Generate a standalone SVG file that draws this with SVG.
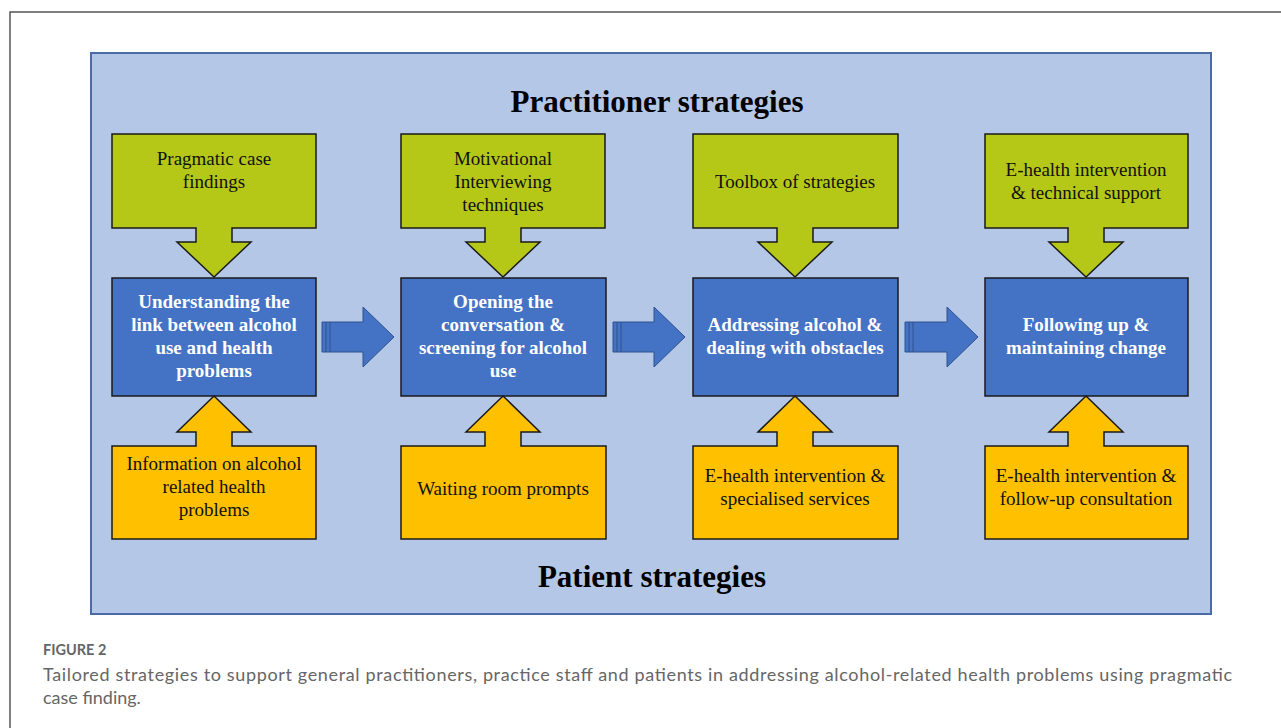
<svg xmlns="http://www.w3.org/2000/svg" width="1281" height="728" viewBox="0 0 1281 728">
<style>
.green{fill:#b5c818;stroke:#1a1a1a;stroke-width:1.5}
.yellow{fill:#ffc000;stroke:#1a1a1a;stroke-width:1.5}
.blue{fill:#4472c4;stroke:#1a1a1a;stroke-width:1.5}
.arr{fill:#4472c4;stroke:#2f528f;stroke-width:1}
.stripe{stroke:#2f528f;stroke-width:1}
.t{font-family:"Liberation Serif","Times New Roman",serif;font-size:19px;fill:#111;text-anchor:middle}
.tb{font-family:"Liberation Serif","Times New Roman",serif;font-size:19px;font-weight:bold;fill:#fff;text-anchor:middle}
.title{font-family:"Liberation Serif","Times New Roman",serif;font-size:31px;font-weight:bold;fill:#000;text-anchor:middle}
.cap{font-family:Lato,"Open Sans",sans-serif;fill:#666}
</style>
<rect width="1281" height="728" fill="#fff"/>
<path d="M10,728 V12 H1281" fill="none" stroke="#555" stroke-width="1.5"/>
<rect id="panel" x="91" y="53" width="1120" height="561" fill="#b4c7e7" stroke="#4a6aa8" stroke-width="2"/>
<text class="title" x="657" y="112">Practitioner strategies</text>
<text class="title" x="652" y="587">Patient strategies</text>

<g id="col1">
<g id="p1"><path class="green" d="M112,134 H316 V228 H232 V242 H251 L214,277 L177,242 H196 V228 H112 Z"/>
<text class="t" x="214" y="165">Pragmatic case</text><text class="t" x="214" y="188">findings</text></g>
<g id="s1"><rect class="blue" x="112" y="278" width="204" height="118"/>
<text class="tb" x="214" y="308">Understanding the</text><text class="tb" x="214" y="331">link between alcohol</text><text class="tb" x="214" y="354">use and health</text><text class="tb" x="214" y="377">problems</text></g>
<g id="q1"><path class="yellow" d="M112,446 H196 V432 H177 L214,396 L251,432 H232 V446 H316 V539 H112 Z"/>
<text class="t" x="214" y="470">Information on alcohol</text><text class="t" x="214" y="493">related health</text><text class="t" x="214" y="516">problems</text></g>
</g>

<g id="col2">
<g id="p2"><path class="green" d="M401,134 H605 V228 H521 V242 H540 L503,277 L466,242 H485 V228 H401 Z"/>
<text class="t" x="503" y="165">Motivational</text><text class="t" x="503" y="188">Interviewing</text><text class="t" x="503" y="211">techniques</text></g>
<g id="s2"><rect class="blue" x="401" y="278" width="205" height="118"/>
<text class="tb" x="503" y="308">Opening the</text><text class="tb" x="503" y="331">conversation &amp;</text><text class="tb" x="503" y="354">screening for alcohol</text><text class="tb" x="503" y="377">use</text></g>
<g id="q2"><path class="yellow" d="M401,446 H485 V432 H466 L503,396 L540,432 H521 V446 H606 V539 H401 Z"/>
<text class="t" x="503" y="495">Waiting room prompts</text></g>
</g>

<g id="col3">
<g id="p3"><path class="green" d="M693,134 H898 V228 H813 V242 H832 L795,277 L758,242 H777 V228 H693 Z"/>
<text class="t" x="795" y="188">Toolbox of strategies</text></g>
<g id="s3"><rect class="blue" x="693" y="278" width="205" height="118"/>
<text class="tb" x="795" y="331">Addressing alcohol &amp;</text><text class="tb" x="795" y="354">dealing with obstacles</text></g>
<g id="q3"><path class="yellow" d="M693,446 H777 V432 H758 L795,396 L832,432 H813 V446 H898 V539 H693 Z"/>
<text class="t" x="795" y="482">E-health intervention &amp;</text><text class="t" x="795" y="505">specialised services</text></g>
</g>

<g id="col4">
<g id="p4"><path class="green" d="M985,134 H1188 V228 H1104 V242 H1123 L1086,277 L1049,242 H1068 V228 H985 Z"/>
<text class="t" x="1086" y="176">E-health intervention</text><text class="t" x="1086" y="199">&amp; technical support</text></g>
<g id="s4"><rect class="blue" x="985" y="278" width="203" height="118"/>
<text class="tb" x="1086" y="331">Following up &amp;</text><text class="tb" x="1086" y="354">maintaining change</text></g>
<g id="q4"><path class="yellow" d="M985,446 H1068 V432 H1049 L1086,396 L1123,432 H1104 V446 H1188 V539 H985 Z"/>
<text class="t" x="1086" y="482">E-health intervention &amp;</text><text class="t" x="1086" y="505">follow-up consultation</text></g>
</g>

<g id="connectors">
<g id="a1"><path class="arr" d="M322,322 H363 V307 L394,337 L363,367 V352 H322 Z"/><path class="stripe" d="M326,322 V352 M330,322 V352"/></g>
<g id="a2"><path class="arr" d="M613,322 H654 V307 L685,337 L654,367 V352 H613 Z"/><path class="stripe" d="M617,322 V352 M621,322 V352"/></g>
<g id="a3"><path class="arr" d="M905,322 H947 V307 L978,337 L947,367 V352 H905 Z"/><path class="stripe" d="M909,322 V352 M913,322 V352"/></g>
</g>

<text class="cap" x="43" y="655" font-size="14.5" font-weight="bold">FIGURE 2</text>
<text class="cap" x="43" y="681" font-size="18" textLength="1189" lengthAdjust="spacing">Tailored strategies to support general practitioners, practice staff and patients in addressing alcohol-related health problems using pragmatic</text>
<text class="cap" x="43" y="704" font-size="18">case finding.</text>
</svg>
